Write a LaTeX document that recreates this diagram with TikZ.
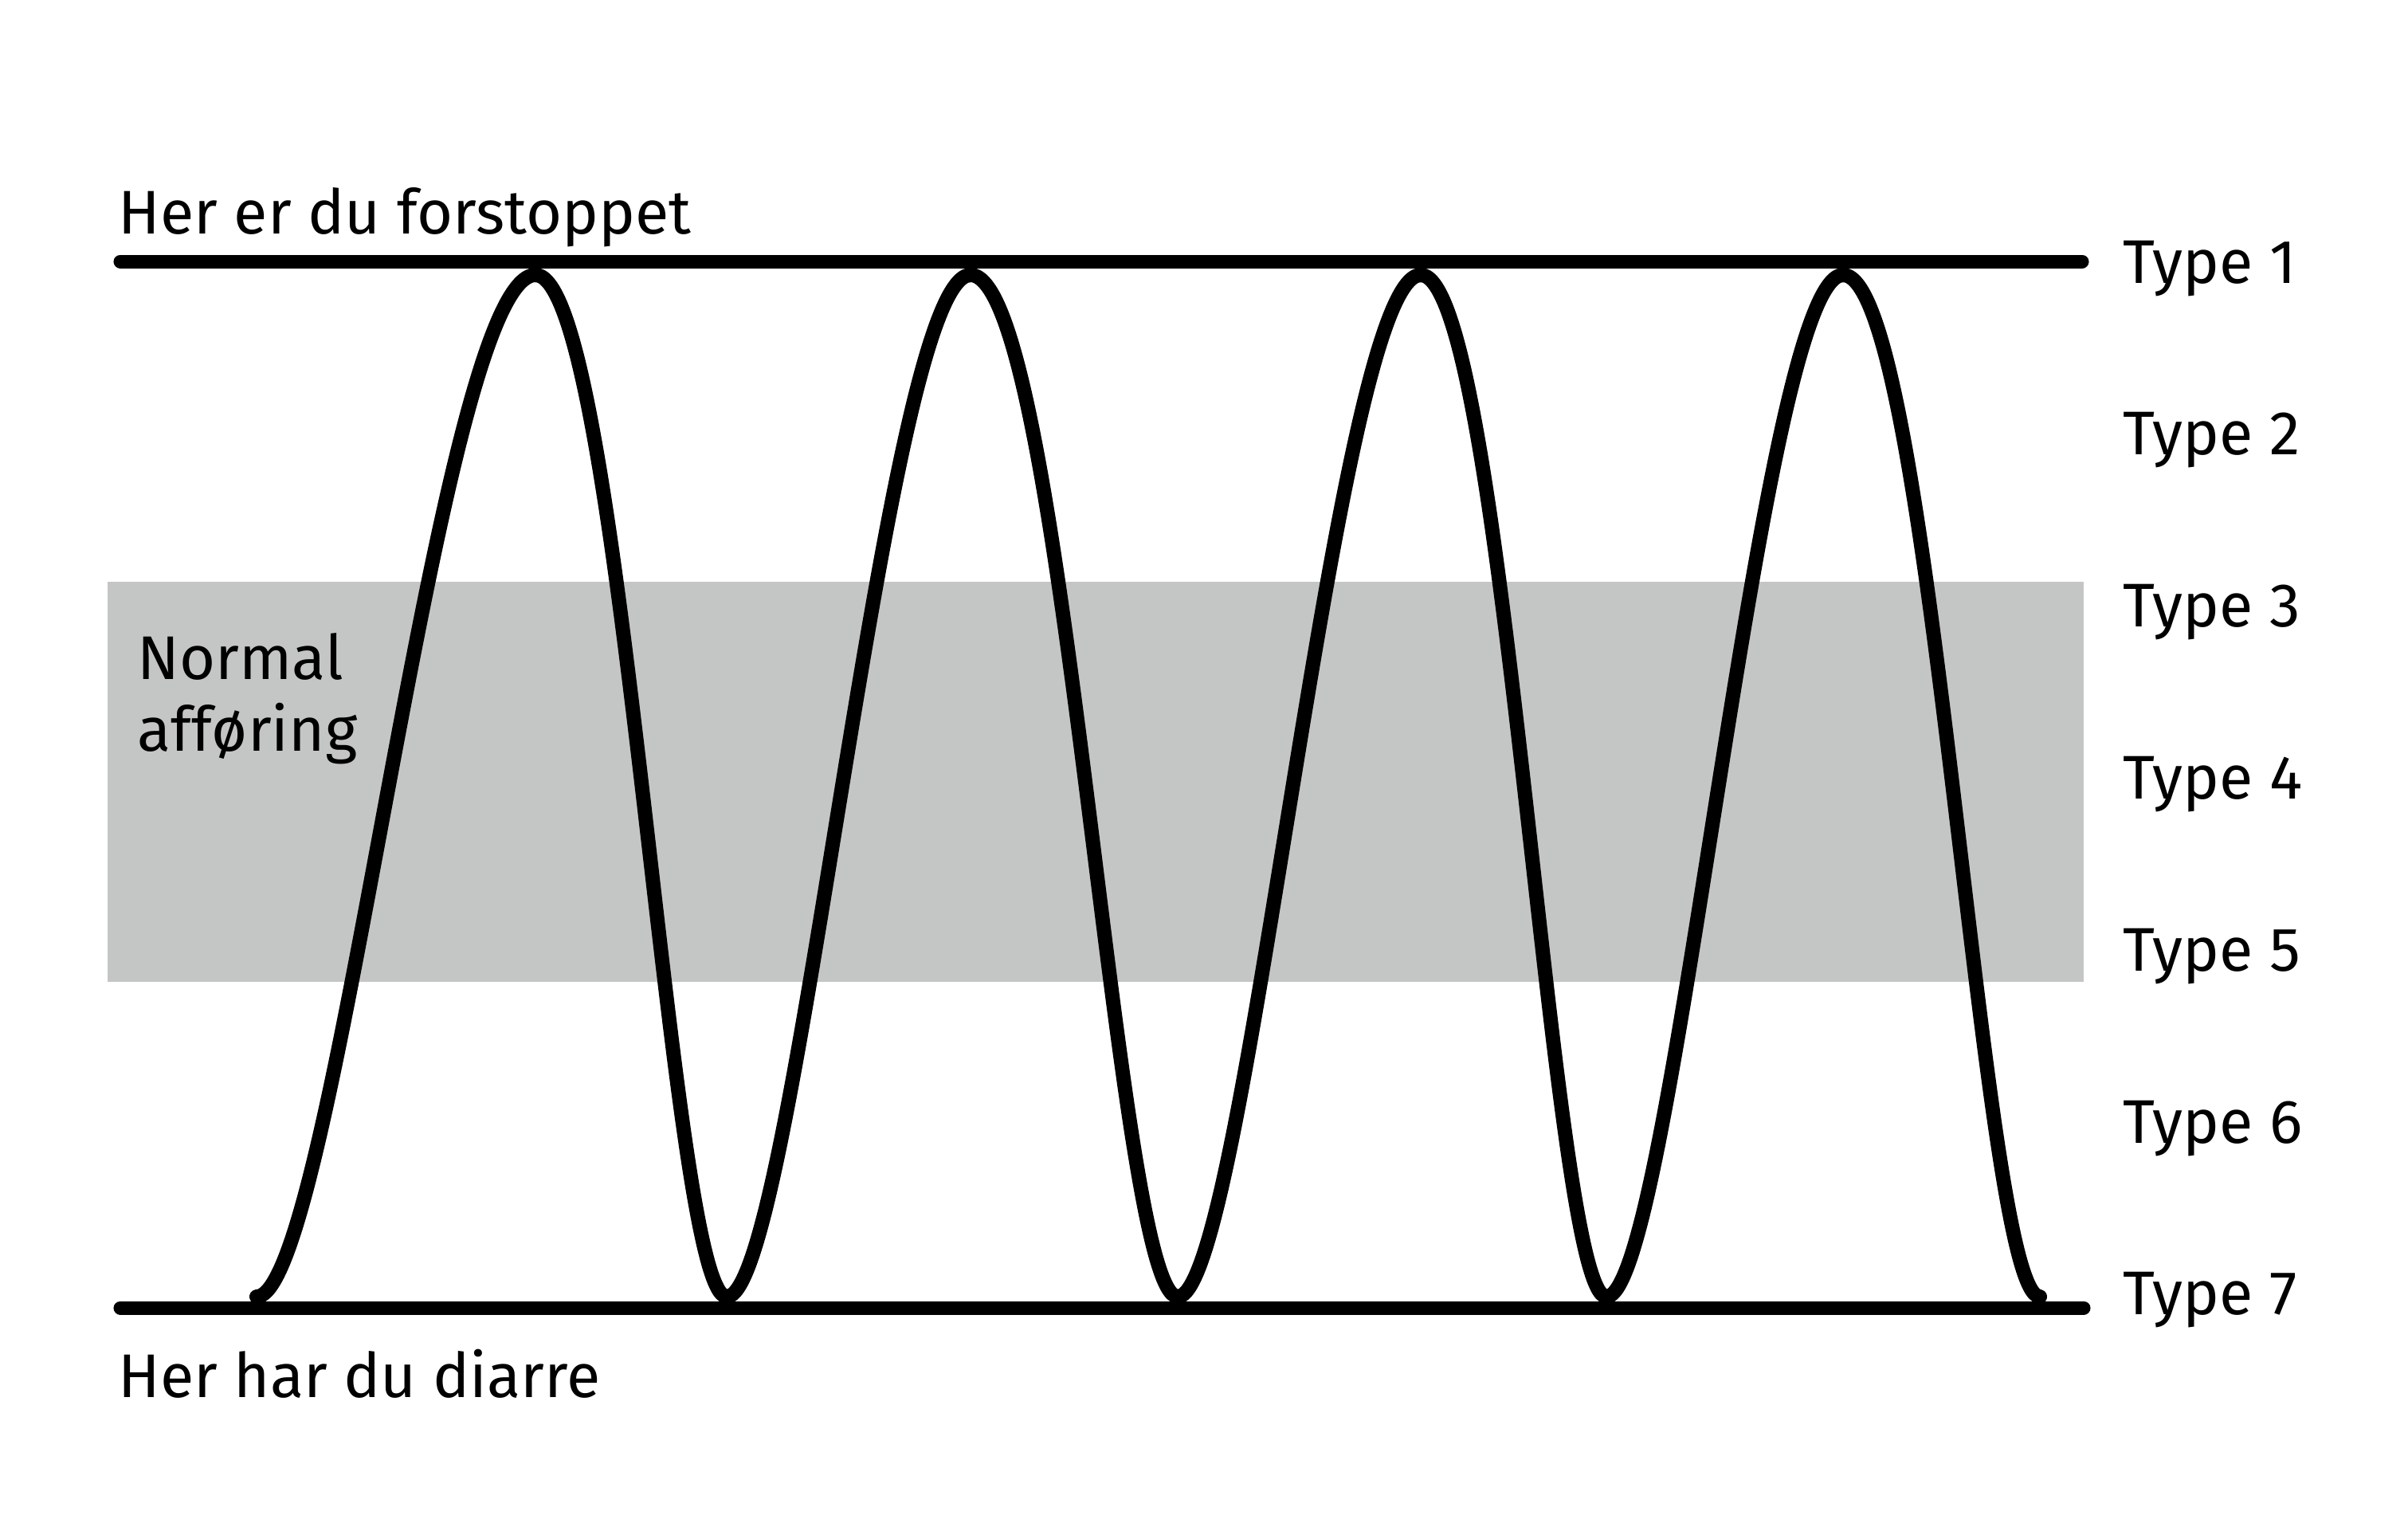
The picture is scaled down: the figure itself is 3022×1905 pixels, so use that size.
\documentclass[tikz,border=0pt]{standalone}
\usepackage{fontspec}
\usepackage{xcolor}
\setmainfont{Fira Sans}
\definecolor{normalgray}{HTML}{C4C6C5}

\begin{document}
\begin{tikzpicture}[x=0.01cm, y=-0.01cm,
  % thick black rails and wave
  levelline/.style={line width=0.17cm, line cap=round},
  waveline/.style={line width=0.18cm, line cap=round, line join=round},
  sidelbl/.style={font=\fontsize{22}{26}\selectfont, inner sep=0pt, anchor=base west},
  typelbl/.style={font=\fontsize{22}{26}\selectfont, inner sep=0pt, anchor=base west},
]
\useasboundingbox (0,0) rectangle (3022,1905);
\def\ytop{345}\def\ybot{1627}

% normal band (type 3 to 5)
\fill[normalgray] (135,730) rectangle (2615,1232);
\node[typelbl] (normal) at (172,852) {Normal};
\node[typelbl] (afforing) at (172,942) {afføring};

\draw[levelline] (151,328) -- (2613,328);
\draw[levelline] (151,1641) -- (2615,1641);
\node[sidelbl] (constip) at (148,293) {Her er du forstoppet};
\node[sidelbl] (diarrhea) at (148,1753) {Her har du diarre};

% wave: up to type 1, down to type 7
\foreach \xa/\xb/\ya/\yb/\ka/\kb in {322/672/\ybot/\ytop/0.28/0.35, 672/912/\ytop/\ybot/0.45/0.30,
  912/1218/\ybot/\ytop/0.28/0.35, 1218/1478/\ytop/\ybot/0.45/0.30,
  1478/1783/\ybot/\ytop/0.28/0.35, 1783/2016/\ytop/\ybot/0.45/0.30,
  2016/2313/\ybot/\ytop/0.28/0.35, 2313/2560/\ytop/\ybot/0.45/0.30} {
  \pgfmathsetmacro{\ca}{\xa+\ka*(\xb-\xa)}
  \pgfmathsetmacro{\cb}{\xb-\kb*(\xb-\xa)}
  \draw[waveline] (\xa,\ya) .. controls (\ca,\ya) and (\cb,\yb) .. (\xb,\yb);
}

\foreach \i in {1,...,7} {
  \node[typelbl] (type\i) at (2664,{355+(\i-1)*215.8}) {Type \i};
}
\end{tikzpicture}
\end{document}
